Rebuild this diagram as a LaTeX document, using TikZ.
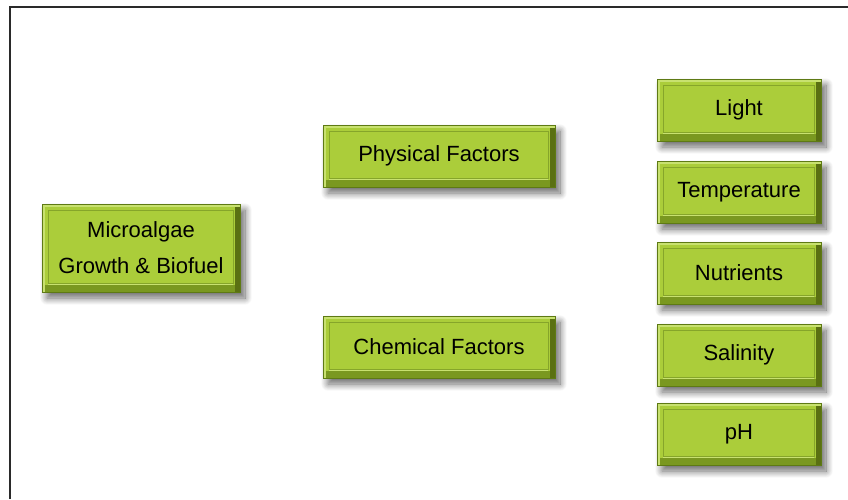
\documentclass[tikz,border=0pt]{standalone}
\usepackage{fontspec}
\setmainfont{Liberation Sans}
\usetikzlibrary{shadows.blur}
\definecolor{facegreen}{HTML}{ABCD3A}
\definecolor{edgegreen}{HTML}{5E7A14}
\definecolor{darkedge}{HTML}{7A9820}
\definecolor{rightedge}{HTML}{5A7012}
\definecolor{lightedge}{HTML}{C8E170}
\definecolor{innerline}{HTML}{86A52A}
\definecolor{framegray}{HTML}{2A2A2A}
\tikzset{
  slab/.style={rectangle, draw=edgegreen, line width=0.8pt, fill=facegreen,
    font=\fontsize{22}{36}\selectfont, text=black, align=center, inner sep=0pt,
    blur shadow={shadow xshift=5pt, shadow yshift=-6pt, shadow blur steps=12, shadow opacity=60, shadow blur radius=7pt},
    path picture={
      \fill[darkedge] ([yshift=7pt]path picture bounding box.south west) rectangle (path picture bounding box.south east);
      \fill[rightedge] ([xshift=-5pt]path picture bounding box.north east) rectangle (path picture bounding box.south east);
      \fill[lightedge] (path picture bounding box.north west) rectangle ([yshift=-3pt]path picture bounding box.north east);
      \fill[lightedge] (path picture bounding box.north west) rectangle ([xshift=3pt]path picture bounding box.south west);
      \draw[innerline, line width=0.7pt, fill=facegreen] ([xshift=6pt,yshift=-6pt]path picture bounding box.north west) rectangle ([xshift=-7pt,yshift=9pt]path picture bounding box.south east);
      \draw[lightedge, line width=0.7pt] ([xshift=6pt,yshift=8pt]path picture bounding box.south west) -- ([xshift=-7pt,yshift=8pt]path picture bounding box.south east);
    }},
  bigslab/.style={slab, minimum width=198pt, minimum height=88pt},
  midslab/.style={slab, minimum width=232pt, minimum height=62pt},
  smallslab/.style={slab, minimum width=164pt, minimum height=62pt},
  frameline/.style={draw=framegray, line width=2pt}
}
\begin{document}
\begin{tikzpicture}[x=1pt, y=-1pt]
\useasboundingbox (0,0) rectangle (848,499);
\draw[frameline] (10,499) -- (10,7) -- (848,7);
\node[bigslab] (micro) at (141,248) {Microalgae\\Growth \& Biofuel};
\node[midslab] (phys) at (439,156) {Physical Factors};
\node[midslab] (chem) at (439,347) {Chemical Factors};
\node[smallslab] (light) at (739,110) {Light};
\node[smallslab] (temp) at (739,192) {Temperature};
\node[smallslab] (nutr) at (739,273) {Nutrients};
\node[smallslab] (sal) at (739,355) {Salinity};
\node[smallslab] (ph) at (739,434) {pH};
\end{tikzpicture}
\end{document}
